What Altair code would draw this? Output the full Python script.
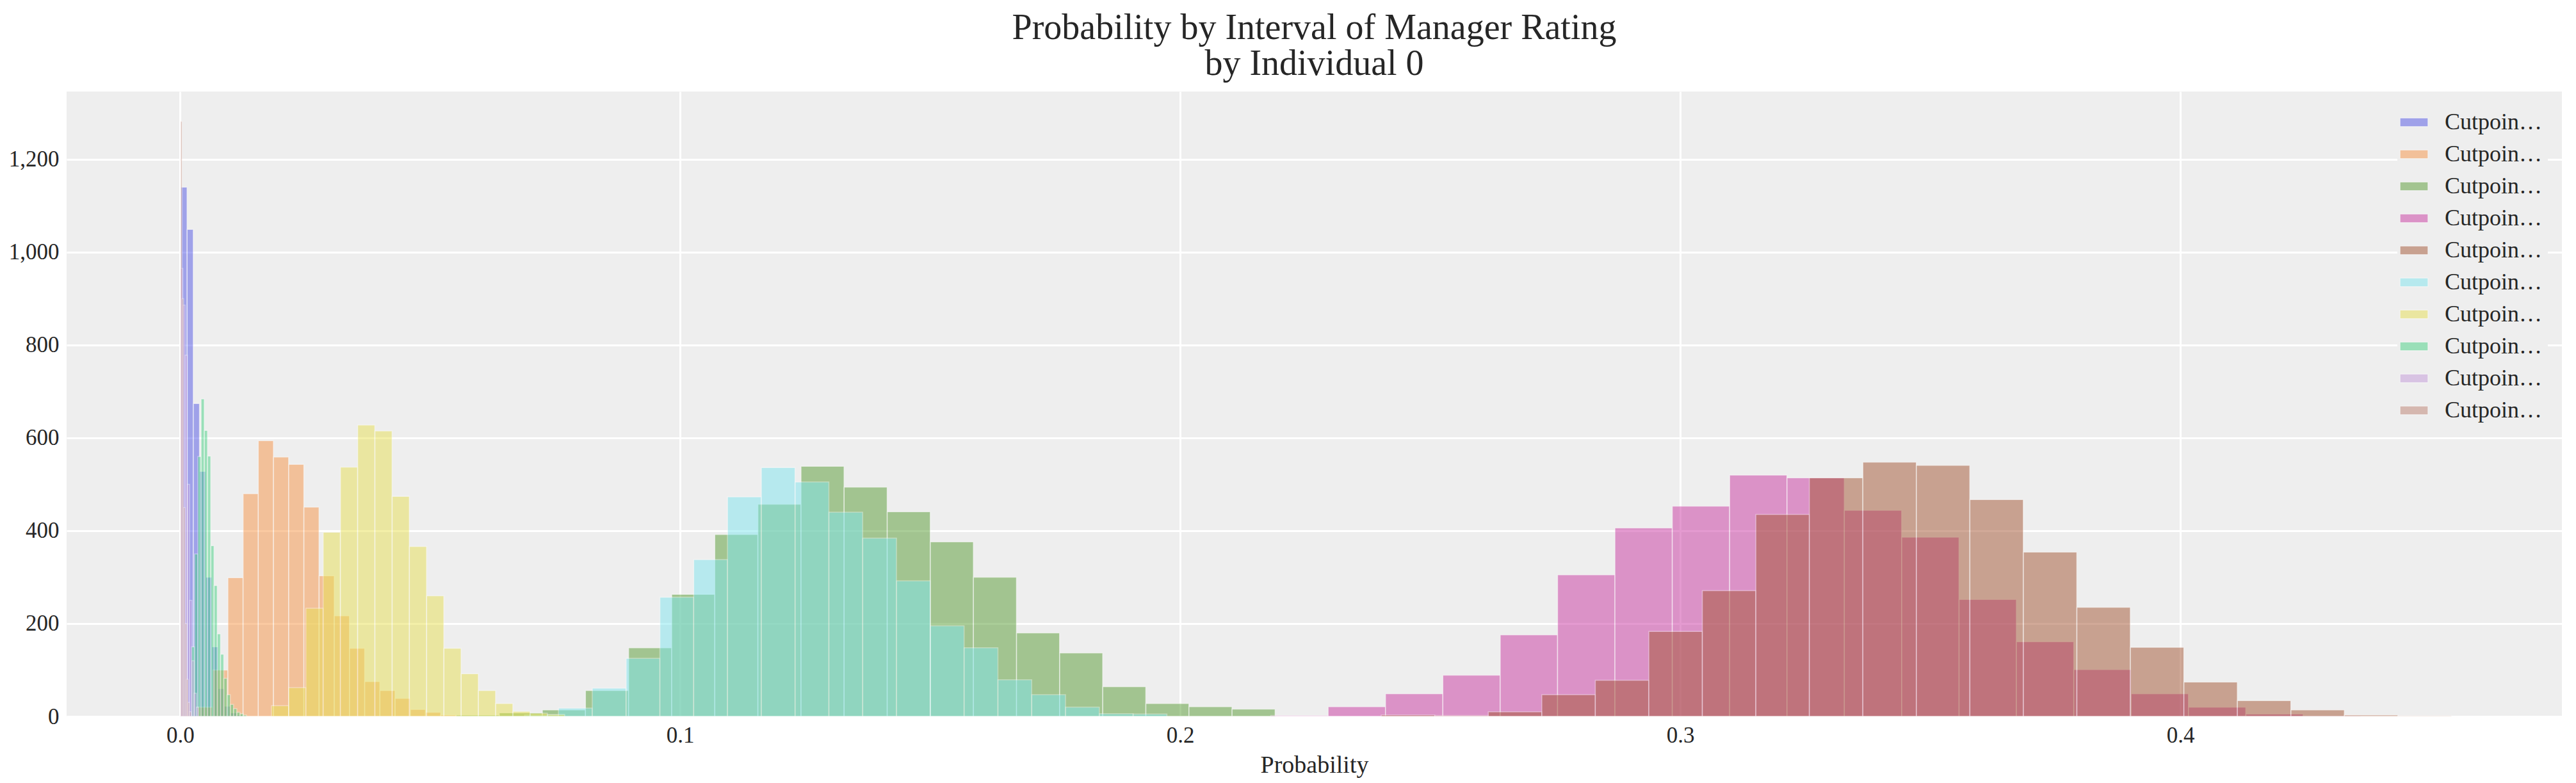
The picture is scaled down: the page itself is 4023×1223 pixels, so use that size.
import altair as alt
import pandas as pd

names = [f"Cutpoint: {i}" for i in range(10)]
colors = ["#5256e6", "#f69446", "#589c34", "#ca38a2", "#a45634",
          "#80e6ee", "#e8e054", "#46d284", "#c49ada", "#be8272"]

# (first bin edge, bin width, counts)
starts = [0.00016, 0.00347, 0.0552, 0.2181, 0.2402, 0.0689, 0.01825, 0.00224, 0.0001, 0.0001]
widths = [0.00124, 0.00304, 0.00862, 0.01147, 0.0107, 0.00676, 0.00345, 0.00065, 0.00045, 0.0003]
c0 = [1140, 1049, 674, 528, 300, 150, 60, 22, 8, 3]
c1 = [20, 100, 299, 480, 594, 559, 543, 451, 303, 217, 147, 75, 56, 39, 15, 9, 3, 1]
c2 = [3, 8, 14, 56, 148, 263, 392, 457, 539, 494, 441, 376, 300, 180, 137, 64, 28, 21, 16]
c3 = [2, 21, 49, 89, 176, 305, 406, 453, 520, 514, 444, 386, 252, 161, 101, 49, 20, 5, 1]
c4 = [3, 2, 10, 47, 78, 183, 271, 435, 514, 548, 541, 467, 354, 235, 149, 74, 34, 14, 3, 1]
c5 = [3, 18, 61, 125, 257, 338, 473, 536, 505, 440, 384, 292, 195, 148, 79, 47, 20, 6, 5]
c6 = [23, 62, 233, 397, 537, 628, 615, 474, 366, 260, 147, 92, 56, 28, 11, 7, 4]
c7 = [150, 350, 560, 684, 616, 561, 368, 282, 178, 134, 82, 47, 26, 17, 9, 6, 3]
c8 = [965, 886, 778, 500, 250, 120, 50, 20]
c9 = [1282, 900, 450, 200, 80, 30, 10]
counts = [c0, c1, c2, c3, c4, c5, c6, c7, c8, c9]

rows = []
for k in range(10):
    for i, c in enumerate(counts[k]):
        lo = starts[k] + i * widths[k]
        rows.append({"series": names[k], "order": k, "x0": lo, "x1": lo + widths[k], "count": c})
df = pd.DataFrame(rows)

font = "Liberation Serif"
chart = alt.Chart(df).mark_rect(
    opacity=0.5, stroke="white", strokeWidth=1.5, strokeOpacity=0.7
).encode(
    x=alt.X("x0:Q", title="Probability",
            scale=alt.Scale(domain=[-0.0227, 0.4763], nice=False, zero=False),
            axis=alt.Axis(values=[0.0, 0.1, 0.2, 0.3, 0.4], format=".1f")),
    x2="x1:Q",
    y=alt.Y("count:Q", title=None, scale=alt.Scale(domain=[0, 1346], nice=False),
            axis=alt.Axis(values=[0, 200, 400, 600, 800, 1000, 1200])),
    y2=alt.datum(0),
    fill=alt.Fill("series:N", scale=alt.Scale(domain=names, range=colors),
                  legend=alt.Legend(title=None, orient="top-right", offset=22,
                                    symbolType="M-1.6,-0.5H1.6V0.5H-1.6Z",
                                    symbolSize=750, symbolOpacity=0.5,
                                    symbolStrokeColor="white", symbolStrokeWidth=1,
                                    labelFont=font, labelFontSize=36, labelColor="#262626",
                                    rowPadding=14, symbolOffset=0, labelOffset=30,
                                    fillColor="#eeeeee", padding=8)),
    order=alt.Order("order:Q"),
).properties(
    width=3897, height=976,
    title=alt.Title(["Probability by Interval of Manager Rating", "by Individual 0"],
                    font=font, fontSize=56, fontWeight="normal", color="#262626",
                    lineHeight=56, offset=14),
    padding={"left": 5, "top": 8, "right": 5, "bottom": 5},
).configure_view(fill="#eeeeee", stroke=None).configure_axis(
    grid=True, gridColor="white", gridWidth=3, domain=False, ticks=False,
    labelFont=font, labelFontSize=35, labelColor="#262626", labelPadding=12,
    titleFont=font, titleFontSize=38, titleFontWeight="normal", titleColor="#262626",
    titlePadding=10,
)

chart.save("out.html", embed_options={"renderer": "svg", "actions": False})
